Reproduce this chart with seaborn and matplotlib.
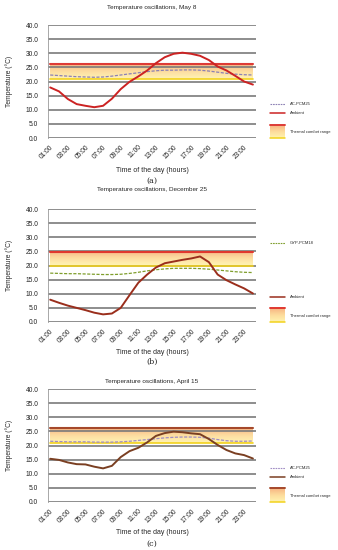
import numpy as np
import matplotlib
matplotlib.use("Agg")
import matplotlib.pyplot as plt
from matplotlib.colors import LinearSegmentedColormap
import seaborn as sns

# hours of the day (01:00 .. 24:00)
hours = list(range(1, 25))
tick_pos = [1, 3, 5, 7, 9, 11, 13, 15, 17, 19, 21, 23]
tick_labels = ["01:00", "03:00", "05:00", "07:00", "09:00", "11:00",
               "13:00", "15:00", "17:00", "19:00", "21:00", "23:00"]

# (a) May 8
may_ambient = [17.9, 16.5, 13.8, 12.0, 11.4, 10.9, 11.4, 13.9, 17.3, 19.9, 21.8, 23.9,
               26.5, 28.6, 29.8, 30.2, 29.8, 29.1, 27.6, 25.3, 23.9, 22.0, 20.0, 18.9]
may_pcm = [22.3, 22.1, 21.9, 21.7, 21.6, 21.5, 21.6, 21.9, 22.3, 22.7, 23.1, 23.5,
           23.8, 24.0, 24.0, 24.1, 24.1, 24.0, 23.7, 23.3, 22.9, 22.6, 22.4, 22.3]
may_comfort = (21.0, 26.2)

# (b) December 25
dec_ambient = [7.9, 6.8, 5.8, 5.0, 4.2, 3.3, 2.7, 3.0, 5.0, 9.5, 13.9, 16.8,
               19.3, 20.8, 21.4, 22.0, 22.5, 23.2, 21.2, 16.8, 14.8, 13.3, 11.9, 10.1]
dec_pcm = [17.3, 17.2, 17.1, 17.1, 17.0, 16.9, 16.8, 16.8, 16.9, 17.2, 17.6, 18.1,
           18.5, 18.8, 19.0, 19.0, 19.0, 18.9, 18.7, 18.4, 18.1, 17.8, 17.6, 17.5]
dec_comfort = (20.0, 24.9)

# (c) April 15
apr_ambient = [15.3, 14.9, 14.0, 13.4, 13.3, 12.5, 11.9, 12.8, 15.9, 18.0, 19.2, 21.1,
               23.4, 24.4, 24.9, 24.7, 24.3, 24.0, 22.3, 20.2, 18.4, 17.2, 16.6, 15.4]
apr_pcm = [21.5, 21.4, 21.3, 21.3, 21.3, 21.2, 21.2, 21.2, 21.3, 21.5, 21.8, 22.1,
           22.4, 22.7, 22.9, 23.0, 23.0, 22.9, 22.6, 22.1, 21.7, 21.5, 21.5, 21.6]
apr_comfort = (21.0, 26.2)

sns.set_style("white")
plt.rcParams['font.family'] = ['Liberation Sans', 'DejaVu Sans']

W, H = 338, 550
fig = plt.figure(figsize=(W / 100, H / 100), dpi=100)

band_cmap = LinearSegmentedColormap.from_list(
    "comfort", ["#fff3b0", "#fddc9c", "#f7b482"])


def px_axes(left, top, right, bottom):
    return fig.add_axes([left / W, 1 - bottom / H, (right - left) / W, (bottom - top) / H])


def draw_band(ax, lo, hi, x0, x1, top_color):
    grad = np.linspace(0, 1, 64).reshape(-1, 1)
    ax.imshow(grad, extent=(x0, x1, lo, hi), origin="lower", cmap=band_cmap,
              aspect="auto", zorder=0.3, alpha=0.95)
    ax.plot([x0, x1], [hi, hi], color=top_color, lw=1.5, zorder=0.6)
    ax.plot([x0, x1], [lo, lo], color="#f2d21c", lw=1.2, zorder=0.6)


panels = [
    dict(top=25, bottom=138, title="Temperature oscillations, May 8", title_y=7,
         amb=may_ambient, pcm=may_pcm, comfort=may_comfort, amb_c="#cc2323",
         pcm_c="#8c80b4", pcm_name="AC-PCM25", band_top="#dd3b36",
         xlabel_y=170, tag="(a)", tag_y=181,
         leg=dict(pcm_y=104, amb_y=113, patch=(125, 138))),
    dict(top=209, bottom=322, title="Temperature oscillations, December 25", title_y=190,
         amb=dec_ambient, pcm=dec_pcm, comfort=dec_comfort, amb_c="#9a2e1c",
         pcm_c="#7f9e2c", pcm_name="GYP-PCM18", band_top="#e0382f",
         xlabel_y=353, tag="(b)", tag_y=362,
         leg=dict(pcm_y=243, amb_y=297, patch=(308, 322))),
    dict(top=389, bottom=502, title="Temperature oscillations, April 15", title_y=382,
         amb=apr_ambient, pcm=apr_pcm, comfort=apr_comfort, amb_c="#7a3f22",
         pcm_c="#a08cc4", pcm_name="AC-PCM25", band_top="#a5482a",
         xlabel_y=533, tag="(c)", tag_y=544,
         leg=dict(pcm_y=468, amb_y=477, patch=(488, 502))),
]

# overlay for titles, labels and legends (pixel coordinates)
over = fig.add_axes([0, 0, 1, 1], zorder=5)
over.set_axis_off()

for p in panels:
    ax = px_axes(48, p["top"], 256, p["bottom"])
    ax.set_axisbelow(True)
    lo, hi = p["comfort"]
    draw_band(ax, lo, hi, hours[0], hours[-1], p["band_top"])
    sns.lineplot(x=hours, y=p["pcm"], ax=ax, color=p["pcm_c"], lw=0.9,
                 linestyle=(0, (2.5, 1.2)), zorder=2)
    sns.lineplot(x=hours, y=p["amb"], ax=ax, color=p["amb_c"], lw=1.4, zorder=3)
    ax.set_ylim(0, 40)
    ax.set_xlim(0.75, 24.35)
    ax.set_yticks(np.arange(0, 41, 5))
    ax.set_yticklabels([f"{v:.1f}" for v in np.arange(0, 41, 5)])
    ax.set_xticks(tick_pos)
    ax.set_xticklabels(tick_labels, rotation=45, ha="right", rotation_mode="anchor")
    ax.yaxis.grid(True, color="#7a7a7a", lw=1.2)
    ax.xaxis.grid(False)
    for s in ["top", "right", "bottom"]:
        ax.spines[s].set_visible(False)
    ax.spines["left"].set_color("#9a9a9a")
    ax.spines["left"].set_linewidth(0.6)
    ax.tick_params(axis="both", length=0, labelsize=4.8, colors="#222222")
    ax.tick_params(axis="y", pad=7)
    ax.tick_params(axis="x", pad=4)
    ax.set_ylabel("Temperature (°C)", fontsize=4.8, labelpad=9)

    cx = 152
    over.text(cx, p["title_y"], p["title"], fontsize=4.6, ha="center", va="center")
    over.text(cx, p["xlabel_y"], "Time of the day (hours)", fontsize=5.0,
              ha="center", va="center")
    over.text(cx, p["tag_y"], p["tag"], fontsize=5.8, ha="center", va="center",
              family="DejaVu Serif")

    lg = p["leg"]
    over.plot([270, 285], [lg["pcm_y"]] * 2, color=p["pcm_c"], lw=0.8,
              linestyle=(0, (1.5, 0.8)))
    over.text(290, lg["pcm_y"], p["pcm_name"], fontsize=3.0, va="center")
    over.plot([270, 285], [lg["amb_y"]] * 2, color=p["amb_c"], lw=1.1)
    over.text(290, lg["amb_y"], "Ambient", fontsize=3.0, va="center")
    y0, y1 = lg["patch"]
    grad = np.linspace(0, 1, 64).reshape(-1, 1)
    over.imshow(grad, extent=(270, 285, y1, y0), origin="lower", cmap=band_cmap,
                aspect="auto")
    over.plot([270, 285], [y0, y0], color=p["band_top"], lw=1.4)
    over.plot([270, 285], [y1, y1], color="#f2d21c", lw=1.1)
    over.text(290, (y0 + y1) / 2 + 1, "Thermal comfort range", fontsize=2.9, va="center")

over.set_xlim(0, W)
over.set_ylim(H, 0)

fig.savefig("out.png", dpi=100)
